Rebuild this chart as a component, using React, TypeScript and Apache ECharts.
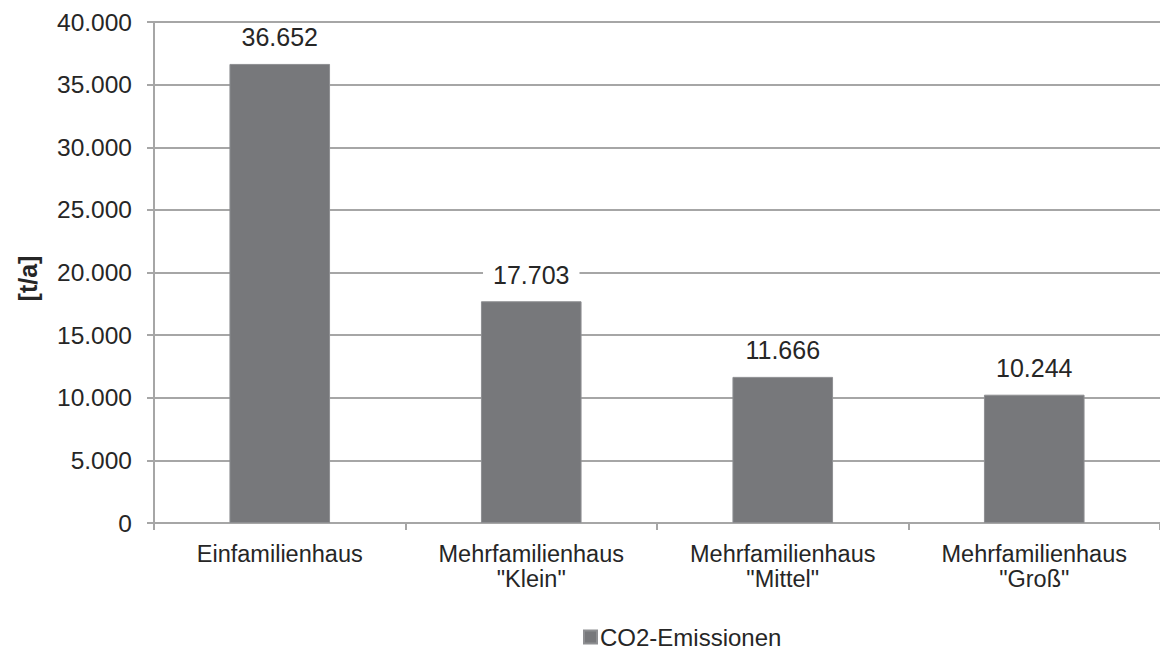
import React, { useEffect, useRef } from "react";
import * as echarts from "echarts";

const categories = [
  "Einfamilienhaus",
  'Mehrfamilienhaus\n"Klein"',
  'Mehrfamilienhaus\n"Mittel"',
  'Mehrfamilienhaus\n"Groß"',
];
const seriesName = "CO2-Emissionen";
const co2Values = [36652, 17703, 11666, 10244];
const yMin = 0;
const yMax = 40000;
const yInterval = 5000;
const yAxisName = "[t/a]";

function fmtDe(v: number): string {
  const s = Math.round(v).toString();
  return s.replace(/\B(?=(\d{3})+(?!\d))/g, ".");
}

const FONT = "'Liberation Sans', Arial, sans-serif";
const TEXT = "#262626";
const GRID = "#a6a6a6";

export default function App() {
  const ref = useRef<HTMLDivElement>(null);
  useEffect(() => {
    if (!ref.current) return;
    const chart = echarts.init(ref.current, undefined, { renderer: "svg" });
    chart.setOption({
      animation: false,
      backgroundColor: "#ffffff",
      textStyle: { fontFamily: FONT, color: TEXT },
      grid: { left: 154, width: 1016, top: 22, bottom: 127, containLabel: false },
      legend: {
        data: [seriesName],
        left: 583,
        top: 625,
        padding: 0,
        itemWidth: 13,
        itemHeight: 13,
        icon: "rect",
        textStyle: {
          fontFamily: FONT,
          fontSize: 24,
          lineHeight: 24,
          color: TEXT,
          padding: [0, 0, 0, -2],
        },
      },
      xAxis: {
        type: "category",
        data: categories,
        boundaryGap: true,
        axisLine: { lineStyle: { color: GRID, width: 2 } },
        axisTick: { show: true, length: 7, lineStyle: { color: GRID, width: 2 } },
        axisLabel: {
          margin: 18,
          fontFamily: FONT,
          fontSize: 23.5,
          lineHeight: 25,
          color: TEXT,
          interval: 0,
        },
        splitLine: { show: false },
      },
      yAxis: {
        type: "value",
        min: yMin,
        max: yMax,
        interval: yInterval,
        name: yAxisName,
        nameLocation: "middle",
        nameGap: 114,
        nameRotate: 90,
        nameTextStyle: {
          fontFamily: FONT,
          fontSize: 25,
          fontWeight: "bold",
          color: TEXT,
          padding: [0, 12, 0, 0],
        },
        axisLine: { show: true, lineStyle: { color: GRID, width: 2 } },
        axisTick: { show: true, length: 7, lineStyle: { color: GRID, width: 2 } },
        axisLabel: {
          margin: 22,
          fontFamily: FONT,
          fontSize: 24.5,
          color: TEXT,
          formatter: (v: number) => fmtDe(v),
        },
        splitLine: { show: true, lineStyle: { color: GRID, width: 2 } },
      },
      series: [
        {
          name: seriesName,
          type: "bar",
          data: co2Values,
          barCategoryGap: "60%",
          itemStyle: { color: "#77787b", borderColor: "#8e8f92", borderWidth: 1 },
          label: {
            show: true,
            position: "top",
            distance: 12,
            fontFamily: FONT,
            fontSize: 25,
            color: TEXT,
            backgroundColor: "#ffffff",
            padding: [2, 10, 2, 10],
            formatter: (p: any) => fmtDe(p.value),
          },
        },
      ],
    });
    return () => chart.dispose();
  }, []);
  return (
    <div
      ref={ref}
      style={{ width: 1160, height: 650, position: "absolute", left: 0, top: 0 }}
    />
  );
}
